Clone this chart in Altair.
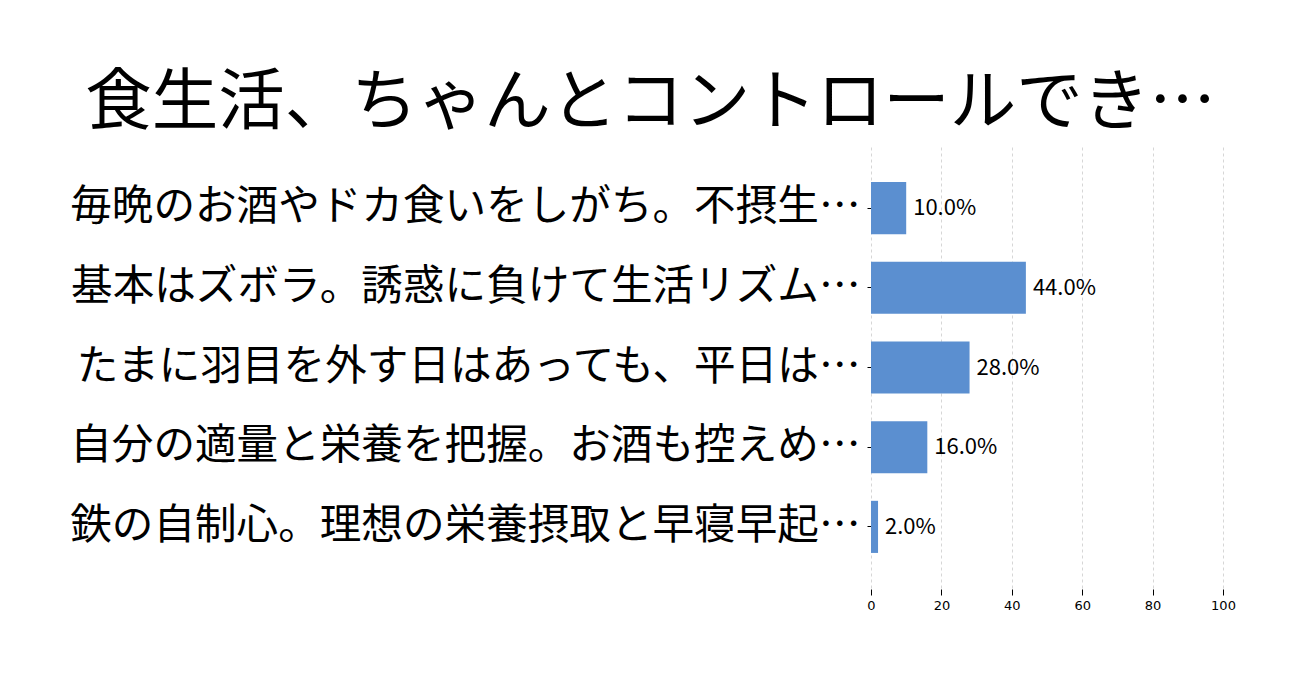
import altair as alt
import pandas as pd

categories = [
    "毎晩のお酒やドカ食いをしがち。不摂生…",
    "基本はズボラ。誘惑に負けて生活リズム…",
    "たまに羽目を外す日はあっても、平日は…",
    "自分の適量と栄養を把握。お酒も控えめ…",
    "鉄の自制心。理想の栄養摂取と早寝早起…",
]
values = [10.0, 44.0, 28.0, 16.0, 2.0]
labels = [f"{v:.1f}%" for v in values]
x_ticks = [0, 20, 40, 60, 80, 100]

df = pd.DataFrame({"cat": categories, "val": values, "lab": labels})

FONT = "Noto Sans CJK JP"

y = alt.Y(
    "cat:N",
    sort=categories,
    title=None,
    scale=alt.Scale(paddingInner=0.346, paddingOuter=0.44),
    axis=alt.Axis(
        labelFontSize=41.6,
        labelFont=FONT,
        labelColor="black",
        labelLimit=900,
        labelPadding=7,
        tickSize=4,
        tickColor="black",
        domain=False,
        grid=False,
    ),
)
x = alt.X(
    "val:Q",
    title=None,
    scale=alt.Scale(domain=[0, 100], nice=False),
    axis=alt.Axis(
        values=x_ticks,
        labelFontSize=13,
        labelFont="DejaVu Sans",
        labelColor="black",
        labelFlush=False,
        tickColor="black",
        tickSize=6,
        offset=1,
        domain=False,
        grid=True,
        gridDash=[3, 3],
        gridColor="#cccccc",
        gridWidth=0.8,
        labelPadding=4,
    ),
)

bars = alt.Chart(df).mark_bar(color="#5b8fd0").encode(x=x, y=y)
text = alt.Chart(df).mark_text(
    align="left", baseline="middle", dx=7, fontSize=22, font=FONT, color="black"
).encode(x="val:Q", y=alt.Y("cat:N", sort=categories), text="lab:N")

chart = (
    alt.layer(bars, text)
    .properties(
        width=352,
        height=441,
        autosize=alt.AutoSizeParams(type="none"),
        padding={"left": 863, "top": 139, "right": 60, "bottom": 60},
        view=alt.ViewBackground(strokeWidth=0, stroke="transparent"),
        title=alt.TitleParams(
            "食生活、ちゃんとコントロールでき…",
            fontSize=66.5,
            font=FONT,
            fontWeight="normal",
            color="black",
            anchor="middle",
            frame="bounds",
            dx=-2,
            offset=10,
        ),
    )
    .configure_view(strokeWidth=0, stroke="transparent")
    .configure(background="white")
)

chart.save("out.html", embed_options={"renderer": "svg", "actions": False})
